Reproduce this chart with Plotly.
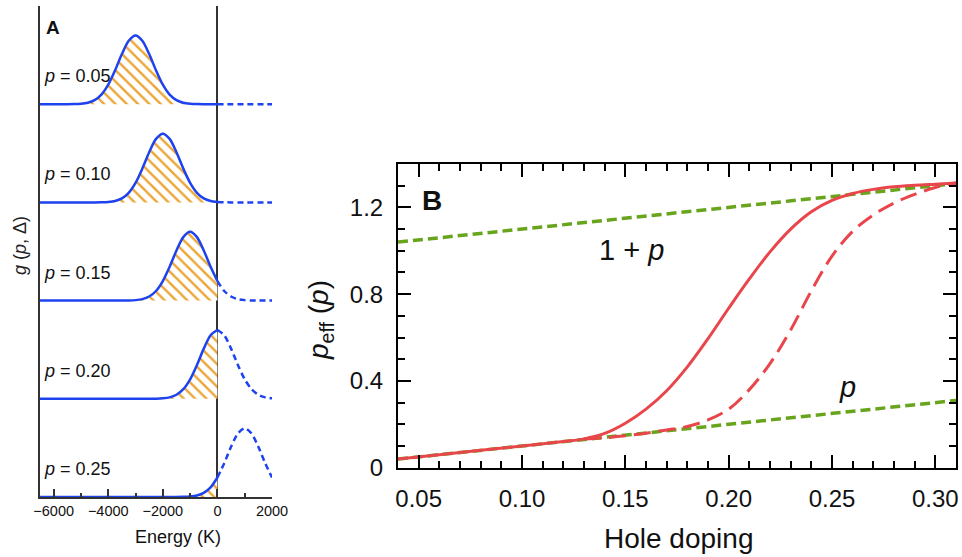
import plotly.graph_objects as go

W, H = 962, 557

# ---------------- Panel A data ----------------
energy = list(range(-6500, 2001, 250))            # K
doping_labels = ["0.05", "0.10", "0.15", "0.20", "0.25"]
peak_energy = [-3000, -2000, -1000, 0, 1000]      # K
baseline = [4, 3, 2, 1, 0]                        # vertical stacking offset
peak_height = 0.70
profile_offsets = list(range(-2500, 2501, 250))
profile = [0.0, 0.002, 0.007, 0.021, 0.059, 0.14, 0.284, 0.492, 0.73, 0.924, 1.0,
           0.924, 0.73, 0.492, 0.284, 0.14, 0.059, 0.021, 0.007, 0.002, 0.0]
energy_ticks = [-6000, -4000, -2000, 0, 2000]

# ---------------- Panel B data ----------------
hole_doping = [0.04, 0.06, 0.08, 0.10, 0.12, 0.13, 0.14, 0.15, 0.16, 0.17, 0.18, 0.19,
               0.20, 0.21, 0.22, 0.23, 0.24, 0.25, 0.26, 0.27, 0.28, 0.29, 0.30, 0.31]
peff_solid = [0.040, 0.060, 0.080, 0.100, 0.121, 0.133, 0.158, 0.205, 0.27, 0.355, 0.465, 0.595,
              0.735, 0.87, 0.995, 1.10, 1.18, 1.232, 1.264, 1.283, 1.295, 1.302, 1.307, 1.312]
dashed_doping = [0.13, 0.14, 0.15, 0.16, 0.17, 0.18, 0.19, 0.20, 0.21, 0.22, 0.23, 0.24,
                 0.25, 0.26, 0.27, 0.28, 0.29, 0.30, 0.31]
peff_dashed = [0.132, 0.138, 0.147, 0.159, 0.174, 0.19, 0.22, 0.27, 0.36, 0.48, 0.635, 0.815,
               0.975, 1.09, 1.165, 1.22, 1.26, 1.292, 1.312]
limit_doping = [0.04, 0.31]
limit_p = [0.04, 0.31]
limit_1p = [1.04, 1.31]

BLUE = "#1E43EE"
ORANGE = "#EBA534"
RED = "#E8464B"
GREEN = "#68A41C"
AXC = "#333333"
FONT = "Arial, Liberation Sans, sans-serif"


def fx(px):
    return px / W


def fy(py):
    return 1 - py / H


fig = go.Figure()

prof = dict(zip(profile_offsets, profile))
for lab, e0, b in zip(doping_labels, peak_energy, baseline):
    g = [b + peak_height * prof.get(e - e0, 0.0) for e in energy]
    neg = [(e, v) for e, v in zip(energy, g) if e <= 0]
    pos = [(e, v) for e, v in zip(energy, g) if e >= 0]
    # hatched area below curve for E < 0
    fill_pts = [(e, v) for e, v in neg if e >= e0 - 2500]
    fx_ = [p[0] for p in fill_pts] + [p[0] for p in fill_pts][::-1]
    fy_ = [p[1] for p in fill_pts] + [b] * len(fill_pts)
    fig.add_trace(go.Scatter(
        x=fx_, y=fy_, fill="toself", mode="lines", line=dict(width=0),
        fillcolor="rgba(255,255,255,0)",
        fillpattern=dict(shape="\\", fgcolor=ORANGE, bgcolor="white", size=8,
                         solidity=0.3, fillmode="replace"),
        xaxis="x", yaxis="y", hoverinfo="skip"))
    fig.add_trace(go.Scatter(
        x=[p[0] for p in neg], y=[p[1] for p in neg], mode="lines",
        line=dict(color=BLUE, width=2.5, shape="spline", smoothing=0.8),
        xaxis="x", yaxis="y"))
    fig.add_trace(go.Scatter(
        x=[p[0] for p in pos], y=[p[1] for p in pos], mode="lines",
        line=dict(color=BLUE, width=2.5, dash="6px,4px", shape="spline", smoothing=0.8),
        xaxis="x", yaxis="y"))
    fig.add_annotation(x=-6420, y=b + 0.285, xref="x", yref="y", xanchor="left",
                       yanchor="middle", showarrow=False,
                       text="<i>p</i> = " + lab, font=dict(size=18, color="#111"))

# Panel B traces
fig.add_trace(go.Scatter(x=limit_doping, y=limit_1p, mode="lines",
                         line=dict(color=GREEN, width=3.5, dash="10px,5px"),
                         xaxis="x2", yaxis="y2"))
fig.add_trace(go.Scatter(x=limit_doping, y=limit_p, mode="lines",
                         line=dict(color=GREEN, width=3.5, dash="10px,5px"),
                         xaxis="x2", yaxis="y2"))
fig.add_trace(go.Scatter(x=dashed_doping, y=peff_dashed, mode="lines",
                         line=dict(color=RED, width=3, dash="17px,8px", shape="spline"),
                         xaxis="x2", yaxis="y2"))
fig.add_trace(go.Scatter(x=hole_doping, y=peff_solid, mode="lines",
                         line=dict(color=RED, width=3, shape="spline"),
                         xaxis="x2", yaxis="y2"))

fig.update_layout(
    template="none",
    width=W, height=H,
    margin=dict(l=0, r=0, t=0, b=0, pad=0, autoexpand=False),
    paper_bgcolor="white", plot_bgcolor="white",
    showlegend=False,
    font=dict(family=FONT, color="#111"),
    xaxis=dict(domain=[fx(40), fx(272)], range=[-6500, 2000], automargin=False,
               tickvals=energy_ticks, ticks="inside", ticklen=8, tickwidth=1.5,
               tickcolor=AXC, showline=True, linecolor=AXC, linewidth=2,
               showgrid=False, zeroline=True, zerolinecolor=AXC, zerolinewidth=2,
               tickfont=dict(size=14.5, color="#111"), ticklabelstandoff=0,
               minor=dict(ticks="inside", dtick=1000, tick0=0, ticklen=4,
                          tickwidth=1.5, tickcolor=AXC, showgrid=False),
               anchor="y"),
    yaxis=dict(domain=[fy(497), fy(6)], range=[0, 5.0], showline=True, automargin=False,
               linecolor=AXC, linewidth=2, showticklabels=False, ticks="",
               showgrid=False, zeroline=False, anchor="x"),
    xaxis2=dict(domain=[fx(398), fx(956)], range=[0.04, 0.31], automargin=False,
                tick0=0.05, dtick=0.05, tickformat=".2f",
                ticks="inside", ticklen=13, tickwidth=2, tickcolor="black",
                showline=True, linecolor="black", linewidth=2, mirror="ticks",
                showgrid=False, zeroline=False,
                tickfont=dict(size=24, color="#111"), ticklabelstandoff=8,
                minor=dict(ticks="inside", dtick=0.01, tick0=0.0, ticklen=7,
                           tickwidth=2, tickcolor="black", showgrid=False),
                anchor="y2"),
    yaxis2=dict(domain=[fy(467.7), fy(164)], range=[0, 1.40], automargin=False,
                tick0=0, dtick=0.4,
                ticks="inside", ticklen=13, tickwidth=2, tickcolor="black",
                showline=True, linecolor="black", linewidth=2, mirror="ticks",
                showgrid=False, zeroline=False,
                tickfont=dict(size=24, color="#111"), ticklabelstandoff=8,
                minor=dict(ticks="inside", dtick=0.1, tick0=0.0, ticklen=7,
                           tickwidth=2, tickcolor="black", showgrid=False),
                anchor="x2"),
)

# Titles and panel labels
def label(px, py, text, size, angle=0, color="#111"):
    fig.add_annotation(x=fx(px), y=fy(py), xref="paper", yref="paper", text=text,
                       xanchor="center", yanchor="middle", textangle=angle,
                       showarrow=False, font=dict(size=size, color=color))


label(53, 27, "<b>A</b>", 19)
label(20, 246, "<i>g</i> (<i>p</i>, Δ)", 18, -90, "#222")
label(178, 537, "Energy (K)", 18)
label(432, 200, "<b>B</b>", 28)
label(320, 320, "<i>p</i><sub>eff</sub> (<i>p</i>)", 28, -90)
label(678, 538, "Hole doping", 28)

fig.add_annotation(x=0.1529, y=1.005, xref="x2", yref="y2", text="1 + <i>p</i>",
                   showarrow=False, font=dict(size=29, color="#111"))
fig.add_annotation(x=0.2577, y=0.371, xref="x2", yref="y2", text="<i>p</i>",
                   showarrow=False, font=dict(size=29, color="#111"))

fig.write_html("out.html")
